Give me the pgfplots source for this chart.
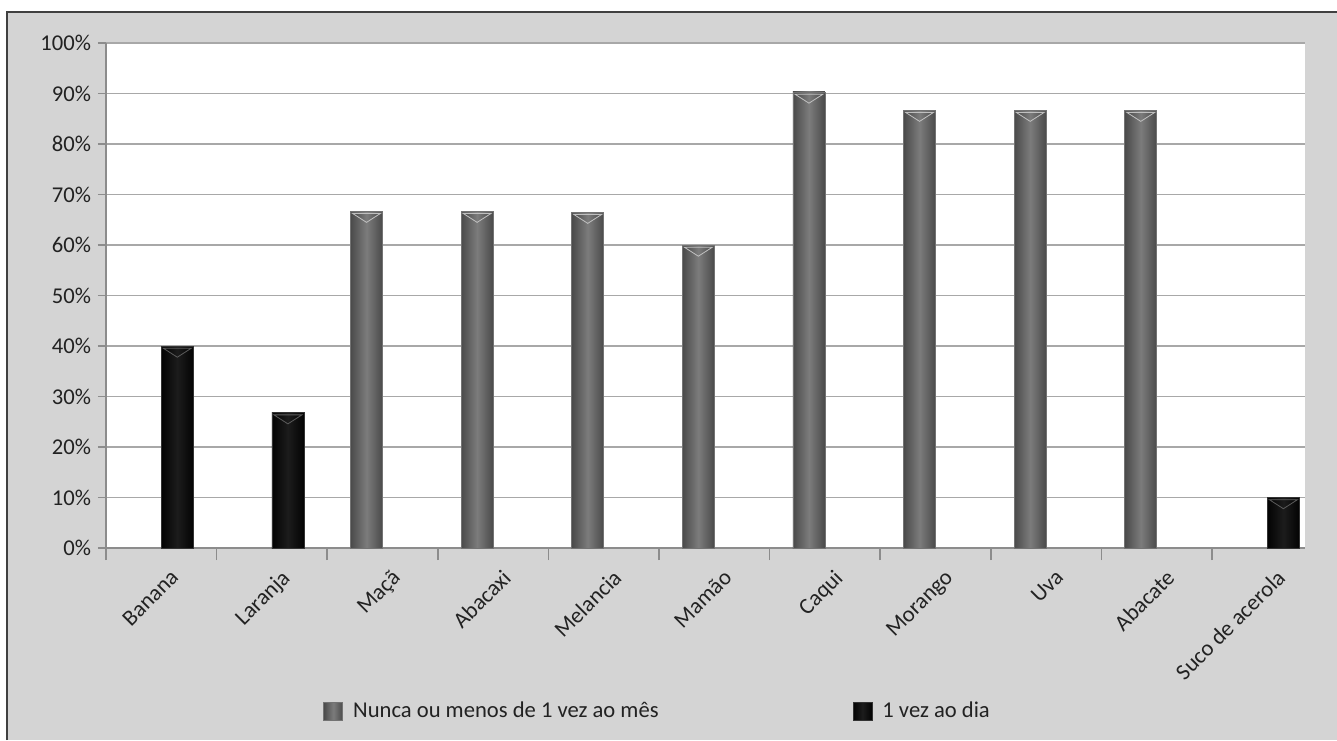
\documentclass[border=0pt]{standalone}
\usepackage{pgfplots}
\pgfplotsset{compat=1.18}
\usepackage{fontspec}
\setmainfont{Carlito}
\definecolor{bggray}{HTML}{D4D4D4}
\definecolor{gridgray}{HTML}{A8A8A8}
\definecolor{axgray}{HTML}{8C8C8C}
\definecolor{txt}{HTML}{222222}
\definecolor{gedge}{HTML}{4A4A4A}
\definecolor{gmid}{HTML}{7C7C7C}
\definecolor{kedge}{HTML}{030303}
\definecolor{kmid}{HTML}{1C1C1C}
\newcommand\ff{\fontsize{11.3}{13}\selectfont}
\newcommand\gbevel{\tikz\fill[gray!50!white] (0pt,0pt)--(14pt,0pt)--(7pt,-4.5pt)--cycle;}
\newcommand\kbevel{\tikz\fill[black!65!white] (0pt,0pt)--(14pt,0pt)--(7pt,-4.5pt)--cycle;}
\pgfplotsset{
  gbar/.style={draw=black!55, line width=0.4pt, left color=gedge, right color=gedge, middle color=gmid,
    bar shift=-8pt, nodes near coords={\gbevel}},
  kbar/.style={draw=black!80, line width=0.4pt, left color=kedge, right color=kedge, middle color=kmid,
    bar shift=8pt, nodes near coords={\kbevel}},
}
\begin{document}
\begin{tikzpicture}
\useasboundingbox (0pt,0pt) rectangle (668.5pt,370pt);
\fill[white] (0pt,0pt) rectangle (668.5pt,370pt);
\fill[bggray] (3.5pt,0pt) rectangle (668.5pt,364pt);
\draw[black!75, line width=0.8pt] (3.5pt,0pt) -- (3.5pt,364pt) -- (668.5pt,364pt);
\begin{axis}[
  at={(53pt,96pt)}, anchor=south west,
  scale only axis, width=599.5pt, height=252.5pt,
  xmin=-0.5, xmax=10.34, ymin=0, ymax=100,
  axis background/.style={fill=white},
  axis x line*=bottom, axis y line*=left,
  axis line style={draw=axgray, line width=0.8pt, -},
  ybar, bar width=16pt,
  ymajorgrids, grid style={gridgray, line width=0.9pt},
  tick align=outside, major tick length=4pt,
  ytick={0,10,...,100},
  yticklabels={0\%,10\%,20\%,30\%,40\%,50\%,60\%,70\%,80\%,90\%,100\%},
  ytick style={draw=axgray, line width=0.8pt},
  xtick={0,...,10},
  xticklabels={Banana,Laranja,Maçã,Abacaxi,Melancia,Mamão,Caqui,Morango,Uva,Abacate,Suco de acerola},
  xtick style={draw=none},
  extra x ticks={-0.5,0.5,...,9.5},
  extra x tick labels={},
  extra x tick style={grid=none, major tick length=6pt, xtick style={draw=axgray, line width=0.8pt}},
  ticklabel style={font=\ff, text=txt},
  xticklabel style={xshift=4pt, yshift=-4.5pt, rotate=45, anchor=north east, inner sep=1pt},
  legend columns=2,
  legend style={draw=none, fill=none, font=\ff, text=txt, inner sep=0pt,
    at={(0.181,-0.3228)}, anchor=west,
    /tikz/every even column/.append style={column sep=95pt}},
  legend image code/.code={\draw[#1] (0pt,-4.5pt) rectangle (9.5pt,4.5pt); \path (12.5pt,0pt);},
  every node near coord/.append style={anchor=north, inner sep=0pt, yshift=-0.7pt},
]
% Nunca ou menos de 1 vez ao mes
\addplot[gbar] coordinates {(2,66.7)};
\addplot[kbar] coordinates {(0,40)};
\addplot[gbar, forget plot] coordinates {(3,66.7)};
\addplot[gbar, forget plot] coordinates {(4,66.5)};
\addplot[gbar, forget plot] coordinates {(5,60)};
\addplot[gbar, forget plot] coordinates {(6,90.3)};
\addplot[gbar, forget plot] coordinates {(7,86.7)};
\addplot[gbar, forget plot] coordinates {(8,86.7)};
\addplot[gbar, forget plot] coordinates {(9,86.7)};
% 1 vez ao dia
\addplot[kbar, forget plot] coordinates {(1,26.8)};
\addplot[kbar, forget plot] coordinates {(10,10)};
\legend{Nunca ou menos de 1 vez ao mês, 1 vez ao dia}
\end{axis}
\end{tikzpicture}
\end{document}
